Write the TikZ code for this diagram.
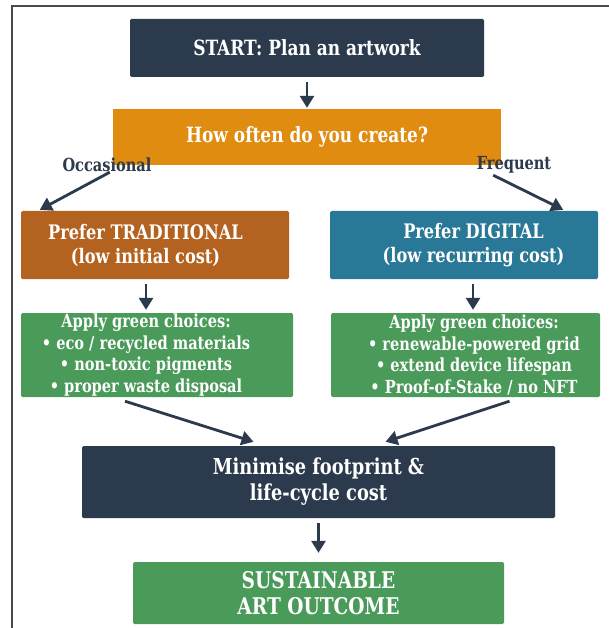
\documentclass[tikz,border=0pt]{standalone}
\usepackage{fontspec}
\setmainfont{DejaVu Serif Condensed}[BoldFont={* Bold}, FakeStretch=0.9]
\usetikzlibrary{arrows.meta,calc}
\definecolor{navy}{HTML}{2C3A4E}
\definecolor{amber}{HTML}{E08C10}
\definecolor{rust}{HTML}{B4621F}
\definecolor{teal}{HTML}{2A7898}
\definecolor{leaf}{HTML}{4A9A5A}
\definecolor{framegray}{HTML}{4A4A4A}
\tikzset{
  box/.style={draw=none, rounded corners=1.5pt, text=white, font=\bfseries,
    align=center, inner sep=0pt},
  boxtext/.style={text=white, align=center, inner sep=0pt},
  flow/.style={draw=navy, line width=2.8pt,
    -{Triangle[length=12pt,width=14pt]}},
  branch/.style={font=\bfseries\fontsize{18}{20}\selectfont, text=navy}
}
\begin{document}
\begin{tikzpicture}[x=1pt,y=-1pt]
\useasboundingbox (0,0) rectangle (609,628);
\fill[white] (0,0) rectangle (609,628);
% outer frame (top and left edges)
\draw[framegray, line width=2pt] (12,628) -- (12,6) -- (609,6);

\node[box, fill=navy, minimum width=354pt, minimum height=58pt,
  font=\bfseries\fontsize{21}{24}\selectfont] (start) at (307,48) {START: Plan an artwork};
\node[box, fill=amber, rounded corners=0pt, minimum width=388pt, minimum height=56pt,
  font=\bfseries\fontsize{21}{24}\selectfont] (ask) at (307,137) {How often do you create?};

% branch boxes: text is centred on the column axis, not on the box
\node[box, fill=rust, minimum width=268pt, minimum height=68pt] (trad) at (155,245) {};
\node[boxtext, font=\bfseries\fontsize{20}{24}\selectfont] (tradT) at ($(trad.center)+(-9.5,0)$)
  {Prefer TRADITIONAL\\(low initial cost)};
\node[box, fill=teal, minimum width=268pt, minimum height=68pt] (digi) at (464,245) {};
\node[boxtext, font=\bfseries\fontsize{20}{24}\selectfont] (digiT) at ($(digi.center)+(9.5,0)$)
  {Prefer DIGITAL\\(low recurring cost)};

\node[box, fill=leaf, minimum width=272pt, minimum height=84pt] (greenL) at (157,355) {};
\node[boxtext, font=\bfseries\fontsize{18}{21.7}\selectfont] (greenLT) at ($(greenL.center)+(-11,0)$)
  {Apply green choices:\\ \textbullet{} eco / recycled materials\\ \textbullet{} non-toxic pigments\\ \textbullet{} proper waste disposal};
\node[box, fill=leaf, minimum width=269pt, minimum height=84pt] (greenR) at (465.5,355) {};
\node[boxtext, font=\bfseries\fontsize{18}{21.7}\selectfont] (greenRT) at ($(greenR.center)+(8.5,0)$)
  {Apply green choices:\\ \textbullet{} renewable-powered grid\\ \textbullet{} extend device lifespan\\ \textbullet{} Proof-of-Stake / no NFT};

\node[box, fill=navy, minimum width=473pt, minimum height=72pt,
  font=\bfseries\fontsize{22}{26}\selectfont] (mini) at (318.5,482)
  {Minimise footprint \&\\life-cycle cost};
\node[box, fill=leaf, minimum width=371pt, minimum height=62pt,
  font=\bfseries\fontsize{23}{26}\selectfont] (goal) at (318.5,593)
  {SUSTAINABLE\\ART OUTCOME};

% branch labels
\node[branch] (occ) at (107,165) {Occasional};
\node[branch] (fre) at (514,165) {Frequent};

% connectors
\coordinate (occA) at ($(ask.south west)+(-3,7)$);
\coordinate (freA) at ($(ask.south east)+(-8,10)$);
\coordinate (occB) at ($(trad.north west)+(19,-1)$);
\coordinate (freB) at ($(digi.north east)+(-35,-1)$);
\draw[flow] ($(start.south)+(0,5)$) coordinate (s1) -- ($(ask.north)+(0,-1)$) coordinate (a1);
\draw[flow] (occA) -- (occB);
\draw[flow] (freA) -- (freB);
\draw[flow] ($(trad.south)+(-9,5)$) coordinate (t1) -- ($(greenL.north)+(-11,-3)$) coordinate (t2);
\draw[flow] ($(digi.south)+(9,5)$) coordinate (d1) -- ($(greenR.north)+(7.5,-3)$) coordinate (d2);
\draw[flow] ($(greenL.south)+(-32,4)$) coordinate (l1) -- ($(mini.north)+(-65,-4)$) coordinate (l2);
\draw[flow] ($(greenR.south)+(44,4)$) coordinate (r1) -- ($(mini.north)+(67,-4)$) coordinate (r2);
\draw[flow] ($(mini.south)+(0,5)$) coordinate (m1) -- ($(goal.north)+(0,-9)$) coordinate (m2);
\end{tikzpicture}
\end{document}
